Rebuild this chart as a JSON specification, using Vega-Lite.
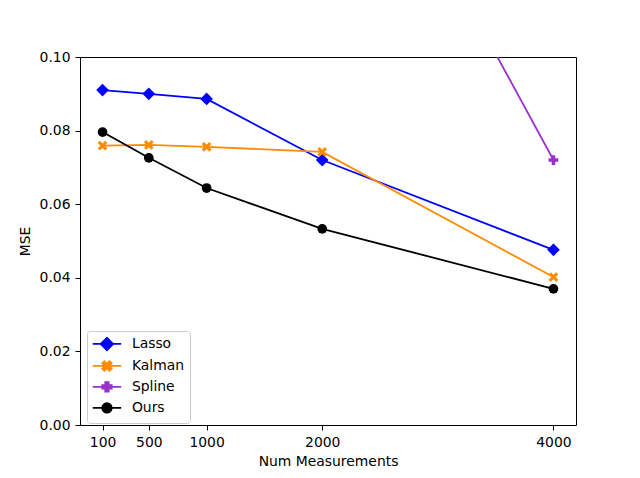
{
  "$schema": "https://vega.github.io/schema/vega-lite/v6.json",
  "width": 496, "height": 368,
  "autosize": "none",
  "padding": {"left": 80, "top": 57, "right": 64, "bottom": 53},
  "background": "white",
  "data": {"values": [
    {"n": 100, "mse": 0.0910, "method": "Lasso"},
    {"n": 500, "mse": 0.0900, "method": "Lasso"},
    {"n": 1000, "mse": 0.0886, "method": "Lasso"},
    {"n": 2000, "mse": 0.0720, "method": "Lasso"},
    {"n": 4000, "mse": 0.0476, "method": "Lasso"},
    {"n": 100, "mse": 0.0759, "method": "Kalman"},
    {"n": 500, "mse": 0.0761, "method": "Kalman"},
    {"n": 1000, "mse": 0.0756, "method": "Kalman"},
    {"n": 2000, "mse": 0.0742, "method": "Kalman"},
    {"n": 4000, "mse": 0.0402, "method": "Kalman"},
    {"n": 2000, "mse": 0.1875, "method": "Spline"},
    {"n": 4000, "mse": 0.0720, "method": "Spline"},
    {"n": 100, "mse": 0.0796, "method": "Ours"},
    {"n": 500, "mse": 0.0726, "method": "Ours"},
    {"n": 1000, "mse": 0.0644, "method": "Ours"},
    {"n": 2000, "mse": 0.0533, "method": "Ours"},
    {"n": 4000, "mse": 0.0370, "method": "Ours"}
  ]},
  "config": {
    "font": "DejaVu Sans",
    "view": {"stroke": "black", "strokeWidth": 1},
    "axis": {
      "grid": false, "domain": false,
      "labelFontSize": 13.9, "titleFontSize": 13.9,
      "labelColor": "black", "titleColor": "black",
      "titleFontWeight": "normal",
      "tickColor": "black", "tickSize": 5, "labelPadding": 5
    }
  },
  "encoding": {
    "x": {
      "field": "n", "type": "quantitative",
      "scale": {"domain": [-95, 4195], "nice": false, "zero": false},
      "axis": {"values": [100, 500, 1000, 2000, 4000], "format": "d", "title": "Num Measurements", "labelFlush": false, "titlePadding": 6}
    },
    "y": {
      "field": "mse", "type": "quantitative",
      "scale": {"domain": [0, 0.1], "nice": false},
      "axis": {"values": [0, 0.02, 0.04, 0.06, 0.08, 0.1], "format": ".2f", "title": "MSE", "labelFlush": false, "titlePadding": 7}
    },
    "color": {
      "field": "method", "type": "nominal",
      "scale": {"domain": ["Lasso", "Kalman", "Spline", "Ours"], "range": ["#0000ff", "#ff8c00", "#9932cc", "#000000"]},
      "legend": {
        "title": null,
        "orient": "none", "legendX": 7, "legendY": 274,
        "fillColor": "white", "strokeColor": "#cccccc", "cornerRadius": 3,
        "padding": 6, "rowPadding": 3,
        "labelFontSize": 13.9, "labelColor": "black",
        "symbolSize": 90, "symbolOffset": 7, "labelOffset": 18,
        "encode": {
          "symbols": {
            "update": {
              "shape": {"signal": "datum.value === 'Lasso' ? 'M-3,0H3M-1.3,0L0,-1.3L1.3,0L0,1.3Z' : datum.value === 'Kalman' ? 'M-3,0H3M0,-0.45L0.55,-1L1,-0.55L0.45,0L1,0.55L0.55,1L0,0.45L-0.55,1L-1,0.55L-0.45,0L-1,-0.55L-0.55,-1Z' : datum.value === 'Spline' ? 'M-3,0H3M-0.36,-1H0.36V-0.36H1V0.36H0.36V1H-0.36V0.36H-1V-0.36H-0.36Z' : 'M-3,0H3M-1,0A1,1 0 1,0 1,0A1,1 0 1,0 -1,0Z'"},
              "fill": {"signal": "scale('color', datum.value)"},
              "stroke": {"signal": "scale('color', datum.value)"},
              "strokeWidth": {"value": 1.8},
              "opacity": {"value": 1}
            }
          }
        }
      }
    }
  },
  "layer": [
    {
      "mark": {"type": "line", "strokeWidth": 1.8, "clip": true}
    },
    {
      "mark": {"type": "point", "filled": true, "opacity": 1, "size": 95, "clip": true},
      "encoding": {
        "shape": {
          "field": "method", "type": "nominal", "legend": null,
          "scale": {
            "domain": ["Ours", "Lasso", "Kalman", "Spline"],
            "range": [
              "circle",
              "M-1.3,0L0,-1.3L1.3,0L0,1.3Z",
              "M0,-0.45L0.55,-1L1,-0.55L0.45,0L1,0.55L0.55,1L0,0.45L-0.55,1L-1,0.55L-0.45,0L-1,-0.55L-0.55,-1Z",
              "M-0.36,-1H0.36V-0.36H1V0.36H0.36V1H-0.36V0.36H-1V-0.36H-0.36Z"
            ]
          }
        }
      }
    }
  ]
}
